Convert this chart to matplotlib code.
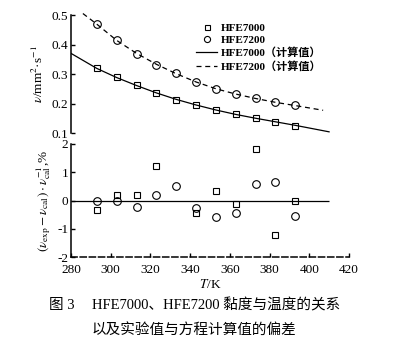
import matplotlib
matplotlib.use('Agg')
import matplotlib.pyplot as plt

plt.rcParams['font.family'] = ['Liberation Serif', 'Noto Sans CJK SC']
plt.rcParams['mathtext.fontset'] = 'stix'
plt.rcParams['axes.unicode_minus'] = False

# measured temperatures (K)
T = [293, 303, 313, 323, 333, 343, 353, 363, 373, 383, 393]
# kinematic viscosity, mm2/s
v7000 = [0.319, 0.289, 0.262, 0.235, 0.213, 0.195, 0.178, 0.163, 0.150, 0.138, 0.125]
v7200 = [0.469, 0.414, 0.369, 0.331, 0.302, 0.272, 0.249, 0.232, 0.218, 0.205, 0.195]

# calculated curves
tc7000 = [280, 293, 303, 313, 323, 333, 343, 353, 363, 373, 383, 393, 410]
vc7000 = [0.370, 0.319, 0.288, 0.261, 0.236, 0.214, 0.195, 0.178, 0.163, 0.150, 0.138, 0.126, 0.104]
tc7200 = [286, 293, 303, 313, 323, 333, 343, 353, 363, 373, 383, 393, 407]
vc7200 = [0.505, 0.469, 0.414, 0.370, 0.333, 0.301, 0.273, 0.250, 0.232, 0.217, 0.204, 0.193, 0.177]

# deviation (%)
T_dev7000 = [293, 303, 313, 323, 343, 353, 363, 373, 383, 393]
dev7000 = [-0.32, 0.21, 0.20, 1.21, -0.43, 0.33, -0.12, 1.83, -1.23, -0.01]
T_dev7200 = [293, 303, 313, 323, 333, 343, 353, 363, 373, 383, 393]
dev7200 = [0.00, -0.02, -0.21, 0.20, 0.52, -0.26, -0.59, -0.44, 0.59, 0.65, -0.54]

x_ticks = [280, 300, 320, 340, 360, 380, 400, 420]
top_yticks = [0.1, 0.2, 0.3, 0.4, 0.5]
bot_yticks = [-2, -1, 0, 1, 2]

fig = plt.figure(figsize=(4.04, 3.53), dpi=100)
ax1 = fig.add_axes([0.1757, 0.6232, 0.688, 0.3343])
ax2 = fig.add_axes([0.1757, 0.2711, 0.688, 0.321])

mk = dict(mfc='none', mec='black', mew=0.8, linestyle='none')

# top panel
h1, = ax1.plot(T, v7000, marker='s', ms=4.5, label='HFE7000', **mk)
h2, = ax1.plot(T, v7200, marker='o', ms=5.5, label='HFE7200', **mk)
h3, = ax1.plot(tc7000, vc7000, color='black', lw=0.9, label='HFE7000（计算值）')
h4, = ax1.plot(tc7200, vc7200, color='black', lw=0.9, linestyle=(0, (4, 3)),
               label='HFE7200（计算值）', clip_on=False)
ax1.set_xlim(280, 420)
ax1.set_ylim(0.1, 0.5)
for s in ['top', 'right', 'bottom']:
    ax1.spines[s].set_visible(False)
ax1.spines['left'].set_linewidth(1.1)
ax1.set_xticks([])
ax1.set_yticks(top_yticks)
ax1.set_yticklabels([f'{y:.1f}' for y in top_yticks])
ax1.tick_params(axis='y', direction='in', length=3, width=1, labelsize=9.5, pad=2)
ax1.set_ylabel(r'$\nu$/mm$^2$·s$^{-1}$', fontsize=9.5, labelpad=4)

# bottom panel
ax2.plot(T_dev7000, dev7000, marker='s', ms=4.5, **mk)
ax2.plot(T_dev7200, dev7200, marker='o', ms=5.5, **mk)
ax2.hlines(0, tc7000[0], tc7000[-1], color='black', lw=0.9)
ax2.set_xlim(280, 420)
ax2.set_ylim(-2, 2)
for s in ['top', 'right']:
    ax2.spines[s].set_visible(False)
ax2.spines['left'].set_linewidth(1.1)
ax2.spines['bottom'].set_linewidth(1.1)
ax2.spines['bottom'].set_linestyle((0, (4, 2)))
ax2.set_xticks(x_ticks)
ax2.set_yticks(bot_yticks)
ax2.set_yticklabels([str(y) for y in bot_yticks])
ax2.tick_params(direction='in', length=3, width=1, labelsize=9.5)
ax2.tick_params(axis='y', pad=2)
ax2.tick_params(axis='x', pad=4.5)
ax2.set_ylabel(r'$(\nu_{\rm exp}-\nu_{\rm cal})\cdot\nu_{\rm cal}^{-1}$,%',
               fontsize=9.5, labelpad=3)
ax2.set_xlabel(r'$T$/K', fontsize=9.5, labelpad=2)

fig.legend(handles=[h1, h2, h3, h4], loc='upper left',
           bbox_to_anchor=(196 / 404, 1 - 23 / 353), frameon=False,
           prop={'size': 8, 'weight': 'bold'}, handlelength=1.9,
           handletextpad=0.3, labelspacing=0.22, borderpad=0, borderaxespad=0,
           markerscale=0.8)

fig.text(49 / 404, 1 - 305 / 353, '图 3', fontsize=10.5, va='center')
fig.text(92 / 404, 1 - 305 / 353, 'HFE7000、HFE7200 黏度与温度的关系',
         fontsize=10.5, va='center')
fig.text(92 / 404, 1 - 330 / 353, '以及实验值与方程计算值的偏差',
         fontsize=10.5, va='center')

fig.savefig('out.png', dpi=100)
